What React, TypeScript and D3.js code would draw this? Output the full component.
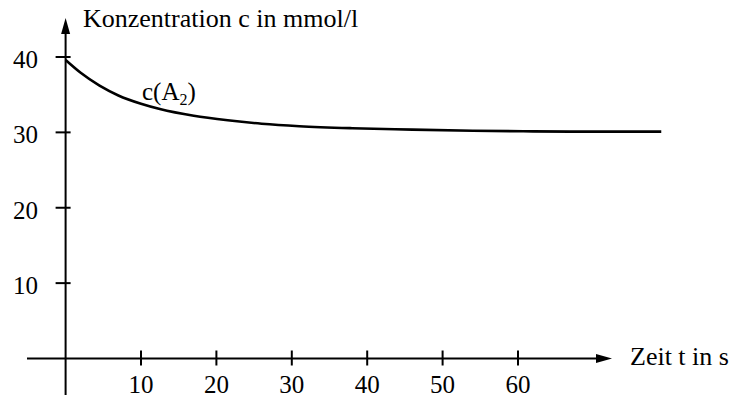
import React from 'react';
import * as d3 from 'd3';

// concentration curve c(A2)
const timeValues = [0, 2, 4.5, 7, 10, 12.5, 17, 21.5, 26, 31, 38, 46, 54, 62, 70, 79];
const concValues = [39.6, 37.9, 36.2, 34.9, 33.8, 33.1, 32.2, 31.6, 31.15, 30.82, 30.55, 30.37, 30.22, 30.13, 30.1, 30.1];

const xTicks = [10, 20, 30, 40, 50, 60];
const yTicks = [10, 20, 30, 40];

const yLabel = 'Konzentration c in mmol/l';
const xLabel = 'Zeit t in s';

const FONT = '"Liberation Serif", "Times New Roman", serif';
const FS = 25;
const TITLE_FS = 26;

const App = () => {
  const width = 738;
  const height = 400;

  const x = d3.scaleLinear().domain([0, 60]).range([65.6, 518]);
  const y = d3.scaleLinear().domain([0, 40]).range([358.5, 57]);

  const points = timeValues.map((t, i) => ({ t, c: concValues[i] }));

  const line = d3.line<{ t: number; c: number }>()
    .x(d => x(d.t))
    .y(d => y(d.c))
    .curve(d3.curveMonotoneX);

  const x0 = x(0);
  const y0 = y(0);
  const xEnd = 612;
  const yTop = 18;

  return (
    <svg
      width={width}
      height={height}
      style={{ position: 'absolute', left: 0, top: 0, background: '#fff' }}
    >
      {/* x axis */}
      <line x1={27} x2={xEnd - 12} y1={y0} y2={y0} stroke="#000" strokeWidth={2} />
      <path d={`M${xEnd},${y0} L${xEnd - 16},${y0 - 4.5} L${xEnd - 16},${y0 + 4.5} Z`} fill="#000" />
      {/* y axis */}
      <line x1={x0} x2={x0} y1={395} y2={yTop + 12} stroke="#000" strokeWidth={2} />
      <path d={`M${x0},${yTop} L${x0 - 4.5},${yTop + 16} L${x0 + 4.5},${yTop + 16} Z`} fill="#000" />

      {xTicks.map(t => (
        <g key={`xt${t}`}>
          <line x1={x(t)} x2={x(t)} y1={y0 - 8} y2={y0 + 7} stroke="#000" strokeWidth={2} />
          <text
            x={x(t)}
            y={393}
            textAnchor="middle"
            fontFamily={FONT}
            fontSize={FS}
            fill="#000"
          >
            {t}
          </text>
        </g>
      ))}

      {yTicks.map(v => (
        <g key={`yt${v}`}>
          <line x1={x0 - 10} x2={x0 + 5} y1={y(v)} y2={y(v)} stroke="#000" strokeWidth={2} />
          <text
            x={38}
            y={y(v) + 11}
            textAnchor="end"
            fontFamily={FONT}
            fontSize={FS}
            fill="#000"
          >
            {v}
          </text>
        </g>
      ))}

      <path d={line(points) || ''} fill="none" stroke="#000" strokeWidth={2.6} />

      <text x={83} y={27} fontFamily={FONT} fontSize={TITLE_FS} fill="#000">{yLabel}</text>
      <text x={630} y={365} fontFamily={FONT} fontSize={TITLE_FS} fill="#000">{xLabel}</text>

      <text x={142} y={100} fontFamily={FONT} fontSize={FS} fill="#000">
        c(A<tspan fontSize={16} dy={5}>2</tspan><tspan dy={-5}>)</tspan>
      </text>
    </svg>
  );
};

export default App;
